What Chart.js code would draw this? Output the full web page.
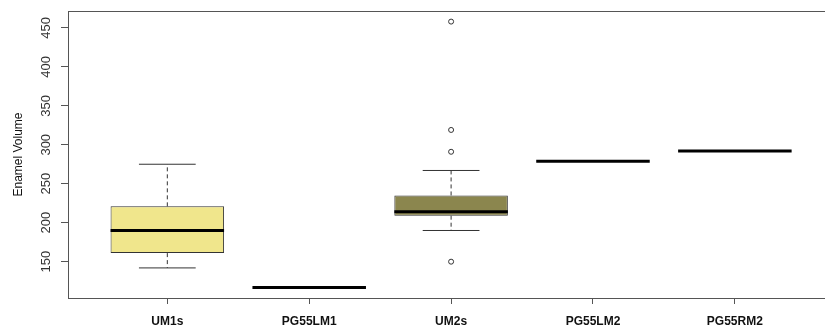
<!DOCTYPE html>
<html>
<head>
<meta charset="utf-8">
<script src="https://cdn.jsdelivr.net/npm/chart.js@4"></script>
<style>
  html, body { margin: 0; padding: 0; background: #fff; }
  .wrap { width: 825px; height: 328px; overflow: hidden; }
</style>
</head>
<body>
<div class="wrap"><canvas id="enamel" width="825" height="328"></canvas></div>
<script>
const categories = ['UM1s', 'PG55LM1', 'UM2s', 'PG55LM2', 'PG55RM2']
const whiskerLow = [142, 117, 190, 279, 292]
const quartile1 = [161, 117, 209, 279, 292]
const medians = [190, 117, 214, 279, 292]
const quartile3 = [221, 117, 235, 279, 292]
const whiskerHigh = [275, 117, 267, 279, 292]
const outliers = [[], [], [458, 319, 291, 150], [], []]
const yTicks = [150, 200, 250, 300, 350, 400, 450]

const boxColors = ['#F0E68C', '#F0E68C', '#8B864E', '#8B864E', '#8B864E']
const boxWidth = 0.8
const capWidth = 0.4
const fontName = '"Liberation Sans", Arial, sans-serif'

const boxData = categories.map((c, i) => ({x: i + 1, y: [quartile1[i], quartile3[i]]}))

const medianData = []
const whiskerData = []
const capData = []
categories.forEach((c, i) => {
  const x = i + 1
  medianData.push({x: x - boxWidth / 2, y: medians[i]}, {x: x + boxWidth / 2, y: medians[i]}, {x: x, y: null})
  whiskerData.push({x: x, y: quartile3[i]}, {x: x, y: whiskerHigh[i]}, {x: x, y: null})
  whiskerData.push({x: x, y: quartile1[i]}, {x: x, y: whiskerLow[i]}, {x: x, y: null})
  capData.push({x: x - capWidth / 2, y: whiskerHigh[i]}, {x: x + capWidth / 2, y: whiskerHigh[i]}, {x: x, y: null})
  capData.push({x: x - capWidth / 2, y: whiskerLow[i]}, {x: x + capWidth / 2, y: whiskerLow[i]}, {x: x, y: null})
})
const outlierData = outliers.flatMap((list, i) => list.map(v => ({x: i + 1, y: v})))

// R style frame and vertical tick labels
const rFrame = {
  id: 'rFrame',
  afterDraw(chart) {
    const {ctx, chartArea, scales} = chart
    ctx.save()
    ctx.strokeStyle = '#555'
    ctx.lineWidth = 1
    ctx.strokeRect(chartArea.left + 0.5, chartArea.top + 0.5, chartArea.right - chartArea.left + 20, chartArea.bottom - chartArea.top)
    ctx.fillStyle = '#333'
    ctx.font = `13px ${fontName}`
    ctx.textAlign = 'center'
    ctx.textBaseline = 'middle'
    yTicks.forEach(v => {
      ctx.save()
      ctx.translate(46.5, scales.y.getPixelForValue(v))
      ctx.rotate(-Math.PI / 2)
      ctx.fillText(String(v), 0, 0)
      ctx.restore()
    })
    ctx.restore()
  }
}

new Chart(document.getElementById('enamel'), {
  type: 'bar',
  data: {
    datasets: [
      {
        type: 'line',
        data: medianData,
        borderColor: '#000',
        borderWidth: 3,
        borderCapStyle: 'butt',
        pointRadius: 0,
        spanGaps: false,
        order: 0
      },
      {
        type: 'line',
        data: outlierData,
        showLine: false,
        pointRadius: 2.5,
        pointBorderWidth: 1,
        pointBorderColor: '#333',
        pointBackgroundColor: '#fff',
        order: 0
      },
      {
        data: boxData,
        backgroundColor: boxColors,
        borderColor: '#333',
        borderWidth: 1,
        borderSkipped: false,
        categoryPercentage: 1,
        barPercentage: boxWidth,
        order: 1
      },
      {
        type: 'line',
        data: capData,
        borderColor: '#333',
        borderWidth: 1,
        pointRadius: 0,
        spanGaps: false,
        order: 2
      },
      {
        type: 'line',
        data: whiskerData,
        borderColor: '#333',
        borderWidth: 1,
        borderDash: [4, 3],
        pointRadius: 0,
        spanGaps: false,
        order: 2
      }
    ]
  },
  options: {
    responsive: false,
    animation: false,
    layout: {padding: {top: 11, right: 0, left: 0, bottom: 0}},
    plugins: {legend: {display: false}, tooltip: {enabled: false}},
    scales: {
      x: {
        type: 'linear',
        offset: false,
        min: 0.3,
        max: 5.6,
        afterBuildTicks: scale => { scale.ticks = categories.map((c, i) => ({value: i + 1})) },
        afterFit: scale => { scale.height = 30 },
        border: {display: false},
        grid: {offset: false, drawOnChartArea: false, drawTicks: true, tickLength: 6, color: '#555'},
        ticks: {
          callback: v => categories[v - 1],
          padding: 10,
          maxRotation: 0,
          autoSkip: false,
          color: '#111',
          font: {family: fontName, size: 12, weight: 'bold'}
        }
      },
      y: {
        min: 103.4,
        max: 471.6,
        afterBuildTicks: scale => { scale.ticks = yTicks.map(v => ({value: v})) },
        afterFit: scale => { scale.width = 68 },
        border: {display: false},
        grid: {drawOnChartArea: false, drawTicks: true, tickLength: 7, color: '#555'},
        ticks: {display: false},
        title: {
          display: true,
          text: 'Enamel Volume',
          color: '#111',
          padding: {top: 11, bottom: 0},
          font: {family: fontName, size: 12}
        }
      }
    }
  },
  plugins: [rFrame]
})
</script>
</body>
</html>
